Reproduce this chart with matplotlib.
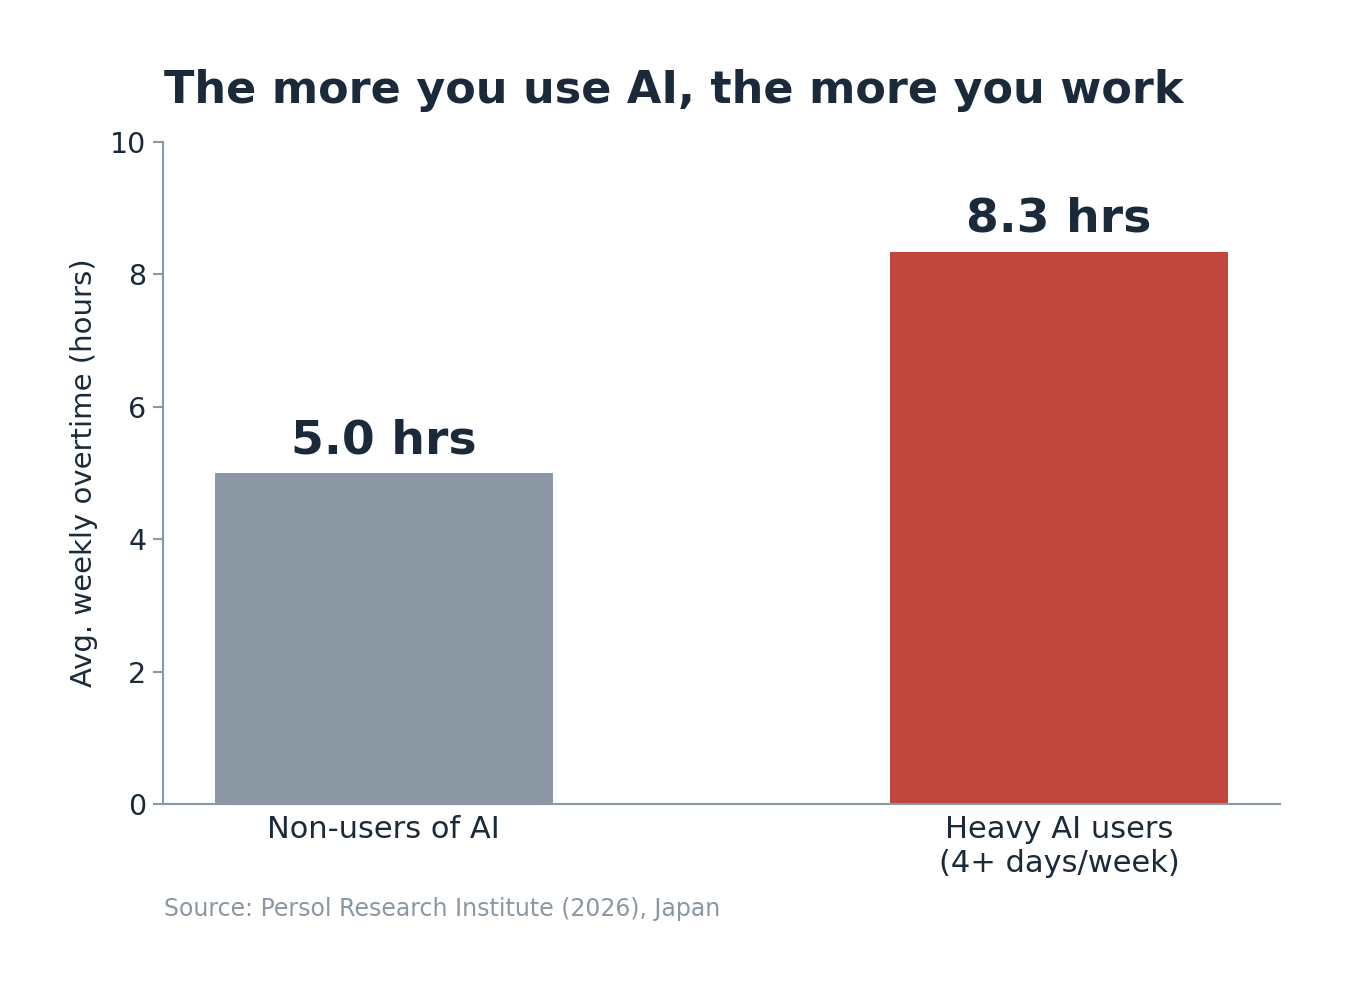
import matplotlib
matplotlib.use("Agg")
import matplotlib.pyplot as plt

categories = ["Non-users of AI", "Heavy AI users\n(4+ days/week)"]
values = [5.0, 8.34]
labels = ["5.0 hrs", "8.3 hrs"]
yticks = [0, 2, 4, 6, 8, 10]

DARK = "#1B2A3A"
GRAY = "#8B97A2"
RED = "#C0453D"

plt.rcParams['font.family'] = ['DejaVu Sans']

fig = plt.figure(figsize=(13.49, 9.91), dpi=100)
ax = fig.add_axes([163/1349, 1-804/991, (1280-163)/1349, (804-142)/991])

x = list(range(len(categories)))
ax.bar(x, values, width=0.5, color=[GRAY, RED], zorder=2)
for xi, v, lab in zip(x, values, labels):
    ax.text(xi, v + 0.15, lab, ha="center", va="bottom", fontsize=34,
            fontweight="bold", color=DARK)

ax.set_xlim(-0.327, 1.327)
ax.set_ylim(0, 10)
ax.set_yticks(yticks)
ax.set_xticks(x)
ax.set_xticklabels(categories)
ax.tick_params(axis="y", labelsize=20.5, colors=DARK, length=7, width=1.5, color=GRAY, pad=5)
ax.tick_params(axis="x", labelsize=22, colors=DARK, length=0, pad=8)
for s in ["top", "right"]:
    ax.spines[s].set_visible(False)
for s in ["left", "bottom"]:
    ax.spines[s].set_color(GRAY)
    ax.spines[s].set_linewidth(1.5)

ax.set_ylabel("Avg. weekly overtime (hours)", fontsize=21, color=DARK, labelpad=9)

fig.text(164/1349, 1-91/991, "The more you use AI, the more you work", ha="left",
         va="center", fontsize=32, fontweight="bold", color=DARK)
fig.text(164/1349, 1-909/991, "Source: Persol Research Institute (2026), Japan", ha="left",
         va="center", fontsize=17, color=GRAY)

fig.savefig("out.png", dpi=100)
